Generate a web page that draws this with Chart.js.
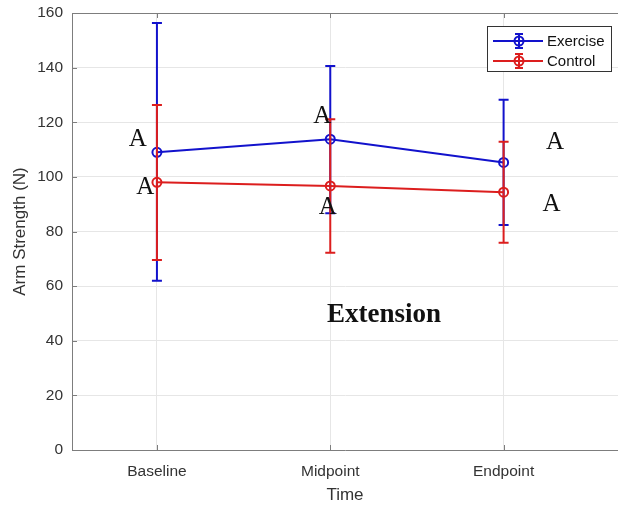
<!DOCTYPE html>
<html>
<head>
<meta charset="utf-8">
<script src="https://cdn.jsdelivr.net/npm/chart.js@4/dist/chart.umd.min.js"></script>
<style>
  html, body { margin: 0; padding: 0; background: #ffffff; overflow: hidden; }
  #wrap { width: 618px; height: 506px; }
</style>
</head>
<body>
<div id="wrap"><canvas id="c" width="618" height="506"></canvas></div>
<script>
// Time points and group means with their error-bar limits (N)
const categories = ['Baseline', 'Midpoint', 'Endpoint'];
const exerciseMean = [109.0, 113.8, 105.3];
const exerciseLow  = [62.0, 86.7, 82.4];
const exerciseHigh = [156.3, 140.6, 128.2];
const controlMean  = [98.0, 96.7, 94.4];
const controlLow   = [69.6, 72.2, 75.9];
const controlHigh  = [126.3, 121.1, 112.9];
const yTicks = [0, 20, 40, 60, 80, 100, 120, 140, 160];

// Significance letters, placed in data units (category position, N)
const letterText = ['A', 'A', 'A', 'A', 'A', 'A'];
const letterX = [0.89, 0.933, 1.954, 1.986, 3.297, 3.276];
const letterY = [114.1, 96.4, 122.6, 89.1, 113.1, 90.1];
const panelLabel = 'Extension';
const panelX = 2.31;
const panelY = 49.8;

const BLUE = '#1212cc';
const RED = '#dc1e1e';
const AXIS = '#7d7d7d';
const GRID = '#e6e6e6';
const TEXT = '#333333';
const SANS = '"Liberation Sans", Arial, sans-serif';
const SERIF = '"Liberation Serif", "Times New Roman", serif';

function pts(vals) { return vals.map((v, i) => ({ x: i + 1, y: v })); }

// Vertical error bars with caps, drawn right after each series
const errorBars = {
  id: 'errorBars',
  afterDatasetDraw(chart, args) {
    const ds = chart.data.datasets[args.index];
    const ys = chart.scales.y;
    const ctx = chart.ctx;
    ctx.save();
    ctx.strokeStyle = ds.borderColor;
    ctx.lineWidth = 2;
    args.meta.data.forEach((p, i) => {
      const x = p.x;
      const lo = ys.getPixelForValue(ds.errLow[i]);
      const hi = ys.getPixelForValue(ds.errHigh[i]);
      ctx.beginPath();
      ctx.moveTo(x, lo); ctx.lineTo(x, hi);
      ctx.moveTo(x - 5, lo); ctx.lineTo(x + 5, lo);
      ctx.moveTo(x - 5, hi); ctx.lineTo(x + 5, hi);
      ctx.stroke();
    });
    ctx.restore();
  }
};

// Box outline, inward tick marks, annotations and legend
const decorations = {
  id: 'decorations',
  afterDraw(chart) {
    const ctx = chart.ctx;
    const a = chart.chartArea;
    const xs = chart.scales.x, ys = chart.scales.y;
    ctx.save();
    ctx.strokeStyle = AXIS;
    ctx.lineWidth = 1;
    ctx.beginPath();
    ctx.moveTo(a.left, a.top + 0.5); ctx.lineTo(a.right, a.top + 0.5);
    yTicks.forEach(v => {
      const y = Math.round(ys.getPixelForValue(v)) + 0.5;
      ctx.moveTo(a.left, y); ctx.lineTo(a.left + 5, y);
    });
    categories.forEach((c, i) => {
      const x = Math.round(xs.getPixelForValue(i + 1)) + 0.5;
      ctx.moveTo(x, a.bottom); ctx.lineTo(x, a.bottom - 5);
      ctx.moveTo(x, a.top); ctx.lineTo(x, a.top + 5);
    });
    ctx.stroke();

    // letters
    ctx.fillStyle = '#111111';
    ctx.textAlign = 'center';
    ctx.textBaseline = 'middle';
    ctx.font = '25px ' + SERIF;
    letterText.forEach((t, i) => {
      ctx.fillText(t, xs.getPixelForValue(letterX[i]), ys.getPixelForValue(letterY[i]) + 1);
    });
    ctx.font = 'bold 27px ' + SERIF;
    ctx.fillText(panelLabel, xs.getPixelForValue(panelX), ys.getPixelForValue(panelY) + 1);

    // legend
    const lx = 487.5, ly = 26.5, lw = 124, lh = 45;
    ctx.fillStyle = '#ffffff';
    ctx.fillRect(lx, ly, lw, lh);
    ctx.strokeStyle = '#333333';
    ctx.lineWidth = 1;
    ctx.strokeRect(lx, ly, lw, lh);
    chart.data.datasets.forEach((ds, i) => {
      const y = 41 + i * 20;
      ctx.strokeStyle = ds.borderColor;
      ctx.lineWidth = 2;
      ctx.beginPath();
      ctx.moveTo(493, y); ctx.lineTo(543, y);
      ctx.moveTo(519, y - 7); ctx.lineTo(519, y + 7);
      ctx.moveTo(515, y - 7); ctx.lineTo(523, y - 7);
      ctx.moveTo(515, y + 7); ctx.lineTo(523, y + 7);
      ctx.stroke();
      ctx.beginPath();
      ctx.arc(519, y, 4.5, 0, Math.PI * 2);
      ctx.stroke();
      ctx.fillStyle = '#111111';
      ctx.textAlign = 'left';
      ctx.textBaseline = 'middle';
      ctx.font = '15px ' + SANS;
      ctx.fillText(ds.label, 547, y + 1);
    });
    ctx.restore();
  }
};

new Chart(document.getElementById('c'), {
  type: 'line',
  data: {
    datasets: [
      {
        label: 'Exercise', data: pts(exerciseMean), errLow: exerciseLow, errHigh: exerciseHigh,
        borderColor: BLUE, borderWidth: 2, pointRadius: 4.5, pointBorderWidth: 2,
        pointBackgroundColor: 'rgba(0,0,0,0)', pointBorderColor: BLUE, order: 2
      },
      {
        label: 'Control', data: pts(controlMean), errLow: controlLow, errHigh: controlHigh,
        borderColor: RED, borderWidth: 2, pointRadius: 4.5, pointBorderWidth: 2,
        pointBackgroundColor: 'rgba(0,0,0,0)', pointBorderColor: RED, order: 1
      }
    ]
  },
  options: {
    responsive: false,
    devicePixelRatio: 1,
    animation: false,
    layout: { autoPadding: false, padding: { left: 0, top: 13, right: 0, bottom: 0 } },
    plugins: { legend: { display: false }, tooltip: { enabled: false } },
    scales: {
      x: {
        type: 'linear', min: 0.51, max: 3.66,
        afterBuildTicks(s) { s.ticks = categories.map((c, i) => ({ value: i + 1 })); },
        afterFit(s) { s.height = 56; s.paddingLeft = 0; s.paddingRight = 0; },
        ticks: {
          callback: v => categories[v - 1] || '',
          color: TEXT, font: { family: SANS, size: 15.5 }, padding: 12, maxRotation: 0
        },
        grid: { color: GRID, drawTicks: false },
        border: { color: AXIS, width: 1 },
        title: { display: true, text: 'Time', color: TEXT, font: { family: SANS, size: 17 }, padding: { top: 2, bottom: 0 } }
      },
      y: {
        min: 0, max: 160,
        afterBuildTicks(s) { s.ticks = yTicks.map(v => ({ value: v })); },
        afterFit(s) { s.width = 72; s.paddingTop = 0; s.paddingBottom = 0; },
        ticks: { color: TEXT, font: { family: SANS, size: 15.5 }, padding: 9 },
        grid: { color: GRID, drawTicks: false },
        border: { color: AXIS, width: 1 },
        title: { display: true, text: 'Arm Strength (N)', color: TEXT, font: { family: SANS, size: 17 }, padding: { top: 10, bottom: 0 } }
      }
    }
  },
  plugins: [errorBars, decorations]
});
</script>
</body>
</html>
